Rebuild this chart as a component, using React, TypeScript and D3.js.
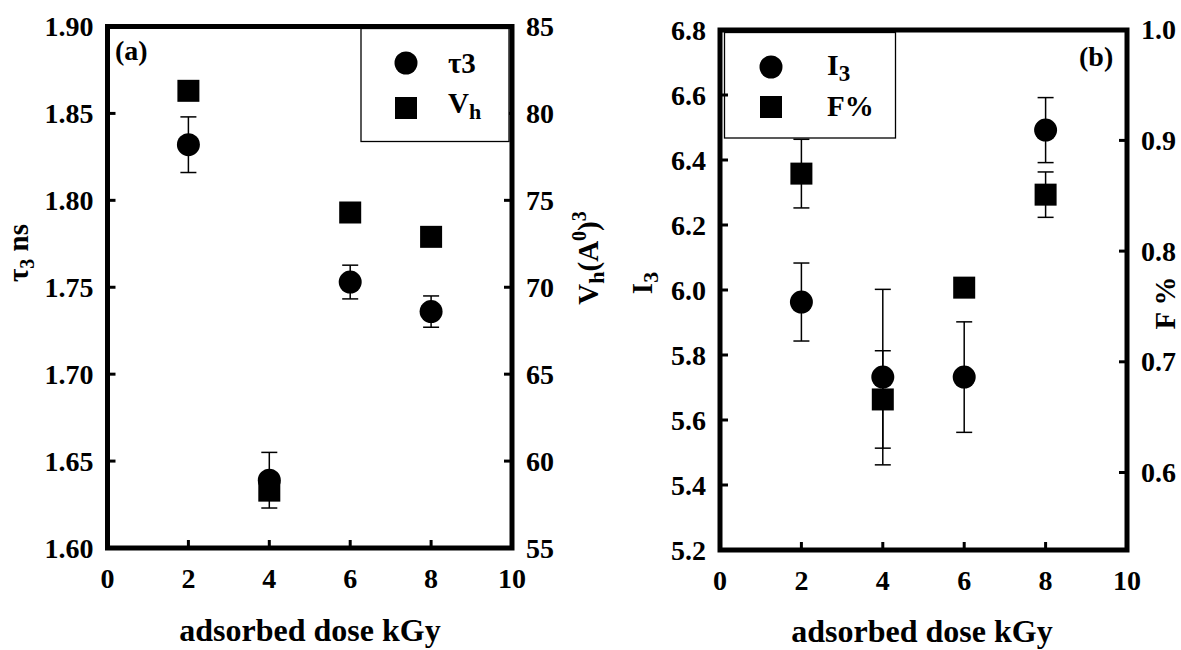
import * as d3 from 'd3'

const doses = [2, 4, 6, 8]
const doseTicks = [0, 2, 4, 6, 8, 10]

// panel (a)
const tau3 = [1.832, 1.639, 1.753, 1.736]
const tau3Err = [0.016, 0.016, 0.0097, 0.009]
const vh = [81.3, 58.3, 74.3, 72.9]
const tauTicks = [1.6, 1.65, 1.7, 1.75, 1.8, 1.85, 1.9]
const vhTicks = [55, 60, 65, 70, 75, 80, 85]

// panel (b)
const i3 = [5.963, 5.732, 5.732, 6.492]
const i3Err = [0.12, 0.27, 0.17, 0.1]
const fPct = [0.87, 0.666, 0.767, 0.851]
const fErr = [0.031, 0.044, 0, 0.0205]
const i3Ticks = [5.2, 5.4, 5.6, 5.8, 6.0, 6.2, 6.4, 6.6, 6.8]
const fTicks = [0.6, 0.7, 0.8, 0.9, 1.0]

const FONT = 'Liberation Serif, Times New Roman, DejaVu Serif, serif'
const R = 11.5
const SQ = 22
const CAP = 8

function Frame({ x, yL, yR, leftTicks, rightTicks, fmtL, fmtR }) {
  const [x0, x1] = x.range()
  const [yb, yt] = yL.range()
  return (
    <g style={{ fontFamily: FONT, fontWeight: 700, fontSize: 28 }} fill="#000">
      <rect x={x0} y={yt} width={x1 - x0} height={yb - yt} fill="none" stroke="#000" strokeWidth={5} />
      {doseTicks.map((t) => (
        <g key={'x' + t}>
          {t > 0 && t < 10 ? (
            <line x1={x(t)} x2={x(t)} y1={yb} y2={yb - 8} stroke="#000" strokeWidth={3} />
          ) : null}
          <text x={x(t)} y={yb + 40} textAnchor="middle">{t}</text>
        </g>
      ))}
      {leftTicks.map((t) => (
        <g key={'l' + t}>
          <line x1={x0} x2={x0 + 8} y1={yL(t)} y2={yL(t)} stroke="#000" strokeWidth={3} />
          <text x={x0 - 14} y={yL(t)} dy="0.34em" textAnchor="end">{fmtL(t)}</text>
        </g>
      ))}
      {rightTicks.map((t) => (
        <g key={'r' + t}>
          <line x1={x1} x2={x1 - 8} y1={yR(t)} y2={yR(t)} stroke="#000" strokeWidth={3} />
          <text x={x1 + 14} y={yR(t)} dy="0.34em" textAnchor="start">{fmtR(t)}</text>
        </g>
      ))}
    </g>
  )
}

function ErrorBars({ x, y, values, errs }) {
  return (
    <g stroke="#000" strokeWidth={1.5}>
      {values.map((v, i) =>
        errs[i] > 0 ? (
          <g key={i}>
            <line x1={x(doses[i])} x2={x(doses[i])} y1={y(v - errs[i])} y2={y(v + errs[i])} />
            <line x1={x(doses[i]) - CAP} x2={x(doses[i]) + CAP} y1={y(v - errs[i])} y2={y(v - errs[i])} />
            <line x1={x(doses[i]) - CAP} x2={x(doses[i]) + CAP} y1={y(v + errs[i])} y2={y(v + errs[i])} />
          </g>
        ) : null,
      )}
    </g>
  )
}

function Squares({ x, y, values }) {
  return (
    <g fill="#000">
      {values.map((v, i) => (
        <rect key={i} x={x(doses[i]) - SQ / 2} y={y(v) - SQ / 2} width={SQ} height={SQ} />
      ))}
    </g>
  )
}

function Circles({ x, y, values }) {
  return (
    <g fill="#000">
      {values.map((v, i) => (
        <circle key={i} cx={x(doses[i])} cy={y(v)} r={R} />
      ))}
    </g>
  )
}

const textStyle = { fontFamily: FONT, fontWeight: 700 }

export default function App() {
  // panel (a)
  const xa = d3.scaleLinear().domain([0, 10]).range([107.5, 512])
  const ya = d3.scaleLinear().domain([1.6, 1.9]).range([548, 26.5])
  const yaR = d3.scaleLinear().domain([55, 85]).range([548, 26.5])
  // panel (b)
  const xb = d3.scaleLinear().domain([0, 10]).range([720, 1127])
  const yb = d3.scaleLinear().domain([5.2, 6.8]).range([550, 30])
  const ybR = d3.scaleLinear().domain([0.53, 1.0]).range([550, 29.7])

  return (
    <svg
      width={1181}
      height={650}
      style={{ position: 'absolute', left: 0, top: 0, background: '#fff' }}
    >
      {/* panel (a) */}
      <ErrorBars x={xa} y={ya} values={tau3} errs={tau3Err} />
      <Squares x={xa} y={yaR} values={vh} />
      <Circles x={xa} y={ya} values={tau3} />
      <Frame
        x={xa}
        yL={ya}
        yR={yaR}
        leftTicks={tauTicks}
        rightTicks={vhTicks}
        fmtL={d3.format('.2f')}
        fmtR={d3.format('d')}
      />
      <g style={textStyle} fill="#000">
        <rect x={361} y={28.5} width={148} height={113} fill="#fff" stroke="#000" strokeWidth={1.3} />
        <circle cx={406} cy={63} r={R} />
        <rect x={406 - SQ / 2} y={108 - SQ / 2} width={SQ} height={SQ} />
        <text x={448} y={73} fontSize={29}>τ3</text>
        <text x={448} y={113} fontSize={29}>
          V<tspan fontSize={22} dy={6}>h</tspan>
        </text>
        <text x={115} y={60} fontSize={28}>(a)</text>
        <text x={310} y={641} fontSize={32} textAnchor="middle">adsorbed dose kGy</text>
        <text transform="translate(28,253) rotate(-90)" fontSize={29} textAnchor="middle">
          τ<tspan fontSize={20} dy={6}>3</tspan>
          <tspan dy={-6}> ns</tspan>
        </text>
        <text transform="translate(598,258) rotate(-90)" fontSize={29} textAnchor="middle">
          V<tspan fontSize={22} dy={6}>h</tspan>
          <tspan dy={-6}>(A</tspan>
          <tspan fontSize={20} dy={-12}>0</tspan>
          <tspan dy={12}>)</tspan>
          <tspan fontSize={20} dy={-12}>3</tspan>
        </text>
      </g>

      {/* panel (b) */}
      <ErrorBars x={xb} y={yb} values={i3} errs={i3Err} />
      <ErrorBars x={xb} y={ybR} values={fPct} errs={fErr} />
      <Squares x={xb} y={ybR} values={fPct} />
      <Circles x={xb} y={yb} values={i3} />
      <rect x={724.5} y={32.5} width={171} height={105.5} fill="#fff" stroke="#000" strokeWidth={1.3} />
      <Frame
        x={xb}
        yL={yb}
        yR={ybR}
        leftTicks={i3Ticks}
        rightTicks={fTicks}
        fmtL={d3.format('.1f')}
        fmtR={d3.format('.1f')}
      />
      <g style={textStyle} fill="#000">
        <circle cx={771} cy={67} r={R} />
        <rect x={771 - SQ / 2} y={107 - SQ / 2} width={SQ} height={SQ} />
        <text x={827} y={75} fontSize={30}>
          I<tspan fontSize={23} dy={6}>3</tspan>
        </text>
        <text x={827} y={116} fontSize={29}>F%</text>
        <text x={1079} y={66} fontSize={28}>(b)</text>
        <text x={922} y={642} fontSize={32} textAnchor="middle">adsorbed dose kGy</text>
        <text transform="translate(652,283) rotate(-90)" fontSize={29} textAnchor="middle">
          I<tspan fontSize={22} dy={6}>3</tspan>
        </text>
        <text transform="translate(1175,303) rotate(-90)" fontSize={29} textAnchor="middle">F %</text>
      </g>
    </svg>
  )
}
